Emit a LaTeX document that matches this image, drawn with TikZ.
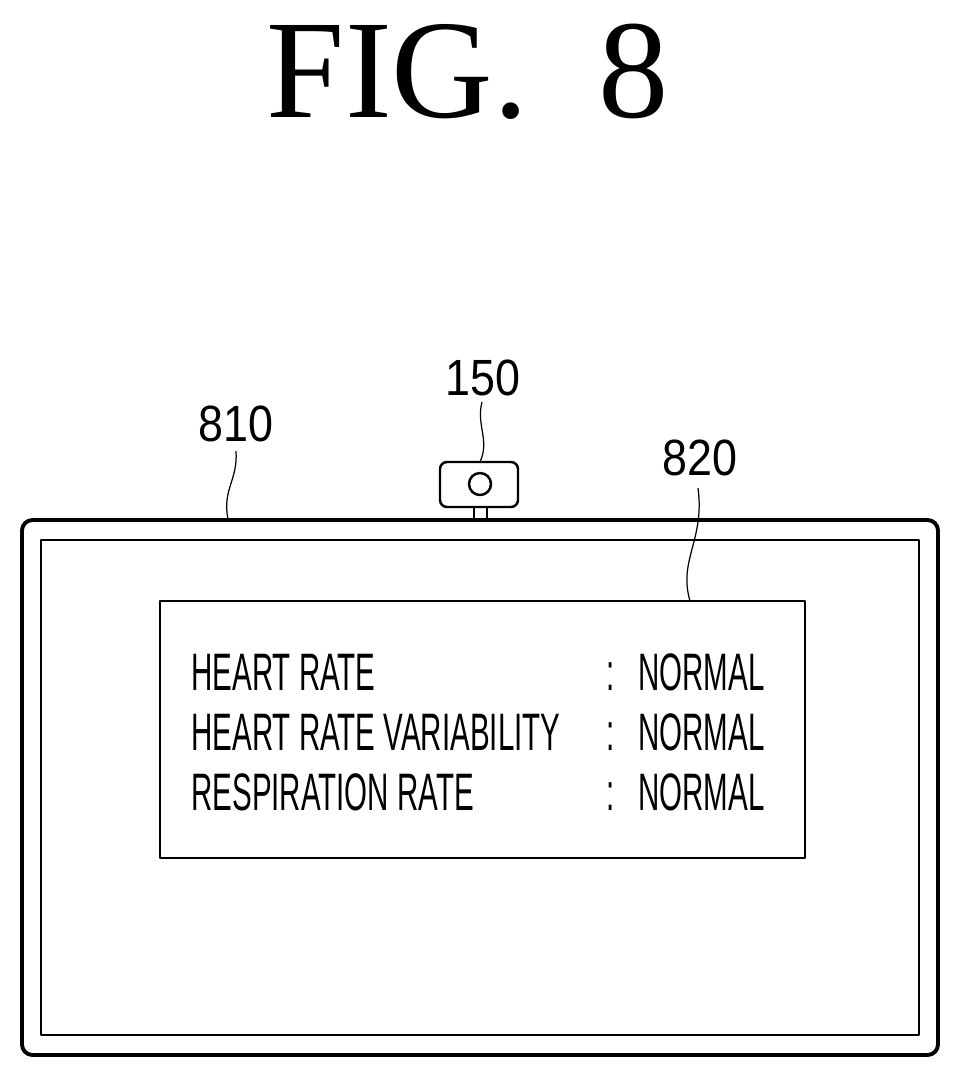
\documentclass[tikz,border=0pt]{standalone}
\usepackage{fontspec}
\setmainfont{Liberation Serif}
\newfontfamily\narrowsans[FakeStretch=0.56]{Liberation Sans}
\newfontfamily\refsans[FakeStretch=0.88]{Liberation Sans}
\begin{document}
\begin{tikzpicture}[x=0.02cm, y=-0.02cm, line join=round,
    frame/.style = {draw, line width=2.2pt, rounded corners=6pt},
    thin/.style = {draw, line width=1.1pt},
    refnum/.style = {font=\refsans\fontsize{29}{30}\selectfont, inner sep=0pt},
    readout/.style = {font=\narrowsans\fontsize{30}{32}\selectfont, inner sep=0pt, anchor=base west}]
    \useasboundingbox (0,0) rectangle (961,1076);
    \node[font=\fontsize{80}{84}\selectfont, inner sep=0pt] (title) at (468,72) {FIG.\hspace{0.5em}8};
    % monitor
    \draw[frame] (22,520) rectangle (938,1055);
    \draw[thin] (41,540) rectangle (919,1035);
    % message window
    \draw[thin, line width=1.3pt] (160,601) rectangle (805,858);
    \node[readout] (hr) at (191,690) {HEART RATE};
    \node[readout] (hrv) at (191,750) {HEART RATE VARIABILITY};
    \node[readout] (rr) at (191,810) {RESPIRATION RATE};
    \foreach \y in {690,750,810} {
        \node[readout] at (606,\y) {:};
        \node[readout] at (638,\y) {NORMAL};
    }
    % camera
    \draw[thin, line width=1.4pt, rounded corners=4pt] (440,462) rectangle (518,507);
    \draw[thin, line width=1.4pt] (480,484) circle (11);
    \draw[thin, line width=1.4pt] (474,507) -- (474,520) (487,507) -- (487,520);
    % reference numerals
    \node[refnum] (n150) at (483,378) {150};
    \node[refnum] (n810) at (236,424) {810};
    \node[refnum] (n820) at (700,458) {820};
    \draw[line width=0.7pt] (482,402) .. controls (476,425) and (490,440) .. (480,462);
    \draw[line width=0.7pt] (236,451) .. controls (238,480) and (222,490) .. (228,519);
    \draw[line width=0.7pt] (698,488) .. controls (705,540) and (678,560) .. (690,601);
\end{tikzpicture}
\end{document}
